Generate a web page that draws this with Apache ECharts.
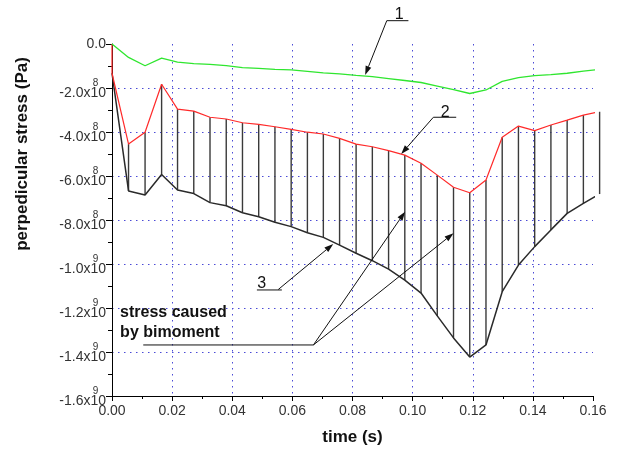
<!DOCTYPE html>
<html>
<head>
<meta charset="utf-8">
<script src="https://cdn.jsdelivr.net/npm/echarts@6/dist/echarts.min.js"></script>
<style>
  html, body { margin: 0; padding: 0; background: #fff; }
  #chart { width: 630px; height: 450px; }
</style>
</head>
<body>
<div id="chart"></div>
<script>
// Sample times (s)
const time = [0, 0.0055, 0.011, 0.0165, 0.0218, 0.0272, 0.0326, 0.038, 0.0434, 0.0488,
  0.0542, 0.0596, 0.065, 0.0703, 0.0757, 0.0812, 0.0866, 0.092, 0.0974, 0.1028,
  0.1082, 0.1136, 0.119, 0.1244, 0.1298, 0.1352, 0.1406, 0.146, 0.1514, 0.1568, 0.1622];

// Curve 1 (green)
const stress1 = [0, -0.61e8, -0.99e8, -0.64e8, -0.82e8, -0.89e8, -0.93e8, -0.98e8, -1.07e8, -1.11e8,
  -1.15e8, -1.18e8, -1.24e8, -1.31e8, -1.36e8, -1.43e8, -1.48e8, -1.57e8, -1.66e8, -1.75e8,
  -1.91e8, -2.07e8, -2.25e8, -2.09e8, -1.70e8, -1.53e8, -1.44e8, -1.39e8, -1.33e8, -1.23e8, -1.15e8];

// Curve 2 (red); it starts from zero at t = 0
const stress2Start = [0, 0];
const stress2 = [-1.33e8, -4.55e8, -4.01e8, -1.83e8, -2.96e8, -3.05e8, -3.33e8, -3.41e8, -3.58e8, -3.65e8,
  -3.76e8, -3.88e8, -4.01e8, -4.09e8, -4.29e8, -4.55e8, -4.67e8, -4.85e8, -5.05e8, -5.42e8,
  -5.96e8, -6.51e8, -6.76e8, -6.18e8, -4.24e8, -3.73e8, -3.94e8, -3.68e8, -3.46e8, -3.23e8, -3.08e8];

// Curve 3 (black)
const stress3 = [-1.33e8, -6.68e8, -6.86e8, -5.93e8, -6.64e8, -6.80e8, -7.21e8, -7.35e8, -7.67e8, -7.85e8,
  -8.10e8, -8.30e8, -8.58e8, -8.79e8, -9.14e8, -9.51e8, -9.85e8, -10.23e8, -10.73e8, -11.32e8,
  -12.36e8, -13.36e8, -14.23e8, -13.68e8, -11.26e8, -10.05e8, -9.21e8, -8.45e8, -7.70e8, -7.24e8, -6.82e8];

// Tick labels
const xTickLabels = ['0.00', '0.02', '0.04', '0.06', '0.08', '0.10', '0.12', '0.14', '0.16'];
const yMantissa = ['0.0', '-2.0', '-4.0', '-6.0', '-8.0', '-1.0', '-1.2', '-1.4', '-1.6'];
const yExponent = ['', '8', '8', '8', '8', '9', '9', '9', '9'];

const chart = echarts.init(document.getElementById('chart'), null, { renderer: 'canvas' });

const FONT = 'Arial, "Liberation Sans", Helvetica, sans-serif';
const gridLine = { color: '#4b4bd6', type: [1.5, 4.5], width: 1 };

chart.setOption({
  animation: false,
  backgroundColor: '#ffffff',
  grid: { left: 112, right: 37, top: 44, bottom: 54, containLabel: false, outerBoundsMode: 'none' },
  xAxis: {
    type: 'value', min: 0, max: 0.16, interval: 0.02,
    name: 'time (s)', nameLocation: 'middle', nameGap: 33,
    nameTextStyle: { fontFamily: FONT, fontSize: 17, fontWeight: 'bold', color: '#111' },
    axisLine: { show: true, onZero: false, lineStyle: { color: '#000', width: 1 } },
    axisTick: { show: true, inside: false, length: 5, lineStyle: { color: '#000' } },
    minorTick: { show: true, splitNumber: 2, length: 3, lineStyle: { color: '#000' } },
    splitLine: { show: true, showMinLine: false, showMaxLine: false, lineStyle: gridLine },
    axisLabel: {
      margin: 8, fontFamily: FONT, fontSize: 14, color: '#333',
      formatter: v => xTickLabels[Math.round(v / 0.02)]
    }
  },
  yAxis: {
    type: 'value', min: -1.6e9, max: 0, interval: 2e8,
    axisLine: { show: true, onZero: false, lineStyle: { color: '#000', width: 1 } },
    axisTick: { show: true, inside: false, length: 6, lineStyle: { color: '#000' } },
    minorTick: { show: true, splitNumber: 2, length: 4, lineStyle: { color: '#000' } },
    splitLine: { show: true, showMinLine: false, showMaxLine: false, lineStyle: gridLine },
    axisLabel: {
      margin: 6,
      formatter: v => {
        const i = Math.round(-v / 2e8);
        if (!yExponent[i]) return '{z|' + yMantissa[i] + '}';
        return '{b|' + yMantissa[i] + 'x1}{s|' + yExponent[i] + '}{b|0}';
      },
      rich: {
        z: { fontFamily: FONT, fontSize: 14, color: '#333', height: 16, lineHeight: 16 },
        b: { fontFamily: FONT, fontSize: 14, color: '#333', height: 16, lineHeight: 16, verticalAlign: 'bottom' },
        s: { fontFamily: FONT, fontSize: 10, color: '#333', height: 10, lineHeight: 26, width: 0,
             verticalAlign: 'top', padding: [3.5, 0, 12.5, 0] }
      }
    }
  },
  series: [
    {
      name: 'hatch', type: 'custom', clip: false, silent: true, z: 2,
      data: time.map((t, i) => [t, stress2[i], stress3[i]]),
      encode: { x: 0, y: [1, 2] },
      renderItem: (params, api) => {
        const a = api.coord([api.value(0), api.value(1)]);
        const b = api.coord([api.value(0), api.value(2)]);
        return {
          type: 'line',
          shape: { x1: a[0], y1: a[1], x2: b[0], y2: b[1] },
          style: { stroke: '#3a3a3a', lineWidth: 1.4 }
        };
      }
    },
    {
      name: '3', type: 'line', clip: false, showSymbol: false, z: 3,
      data: time.map((t, i) => [t, stress3[i]]),
      lineStyle: { color: '#2a2a2a', width: 1.5 }
    },
    {
      name: '2', type: 'line', clip: false, showSymbol: false, z: 4,
      data: [stress2Start].concat(time.map((t, i) => [t, stress2[i]])),
      lineStyle: { color: '#ff2a2a', width: 1.2 }
    },
    {
      name: '1', type: 'line', clip: false, showSymbol: false, z: 4,
      data: time.map((t, i) => [t, stress1[i]]),
      lineStyle: { color: '#2fe62f', width: 1.3 }
    }
  ]
});

// Annotation layer, anchored in data coordinates
const px = p => chart.convertToPixel({ gridIndex: 0 }, p);

function arrow(fromData, toData) {
  const f = px(fromData), t = px(toData);
  const dx = t[0] - f[0], dy = t[1] - f[1], L = Math.hypot(dx, dy);
  const ux = dx / L, uy = dy / L, len = 9, half = 3;
  const bx = t[0] - ux * len, by = t[1] - uy * len;
  return [
    { type: 'line', z: 50, shape: { x1: f[0], y1: f[1], x2: bx, y2: by }, style: { stroke: '#111', lineWidth: 1 } },
    { type: 'polygon', z: 50, shape: { points: [[t[0], t[1]], [bx - uy * half, by + ux * half], [bx + uy * half, by - ux * half]] },
      style: { fill: '#111' } }
  ];
}
function hline(aData, bData) {
  const a = px(aData), b = px(bData);
  return { type: 'line', z: 50, shape: { x1: a[0], y1: a[1], x2: b[0], y2: b[1] }, style: { stroke: '#111', lineWidth: 1 } };
}
function label(text, atData, opts) {
  const p = px(atData);
  return {
    type: 'text', z: 50, x: p[0], y: p[1],
    style: Object.assign({ text: text, fontFamily: FONT, fontSize: 16, fill: '#111',
      align: 'center', verticalAlign: 'middle', textAlign: 'center', textVerticalAlign: 'middle' }, opts || {})
  };
}

const graphics = [].concat(
  // 1
  [label('1', [0.0955, 1.32e8]), hline([0.0914, 1.06e8], [0.0986, 1.06e8])],
  arrow([0.0914, 1.06e8], [0.0842, -1.41e8]),
  // 2
  [label('2', [0.1108, -3.12e8]), hline([0.1069, -3.33e8], [0.1145, -3.33e8])],
  arrow([0.1069, -3.33e8], [0.0962, -5.0e8]),
  // 3
  [label('3', [0.0498, -10.88e8]), hline([0.0482, -11.18e8], [0.0565, -11.18e8])],
  arrow([0.0553, -11.16e8], [0.0736, -9.09e8]),
  // stress caused by bimoment
  [
    label('stress caused', [0.0027, -12.23e8], { fontWeight: 'bold', align: 'left', textAlign: 'left' }),
    label('by bimoment', [0.0027, -13.14e8], { fontWeight: 'bold', align: 'left', textAlign: 'left' }),
    hline([0.0104, -13.68e8], [0.0670, -13.68e8])
  ],
  arrow([0.0670, -13.68e8], [0.0975, -7.62e8]),
  arrow([0.0670, -13.68e8], [0.1136, -8.60e8]),
  // y-axis title
  [{
    type: 'text', z: 50, x: 22, y: 154, rotation: Math.PI / 2,
    style: { text: 'perpedicular stress (Pa)', fontFamily: FONT, fontSize: 17, fontWeight: 'bold', fill: '#111',
      align: 'center', verticalAlign: 'middle', textAlign: 'center', textVerticalAlign: 'middle' }
  }]
);

chart.setOption({ graphic: graphics });
</script>
</body>
</html>
